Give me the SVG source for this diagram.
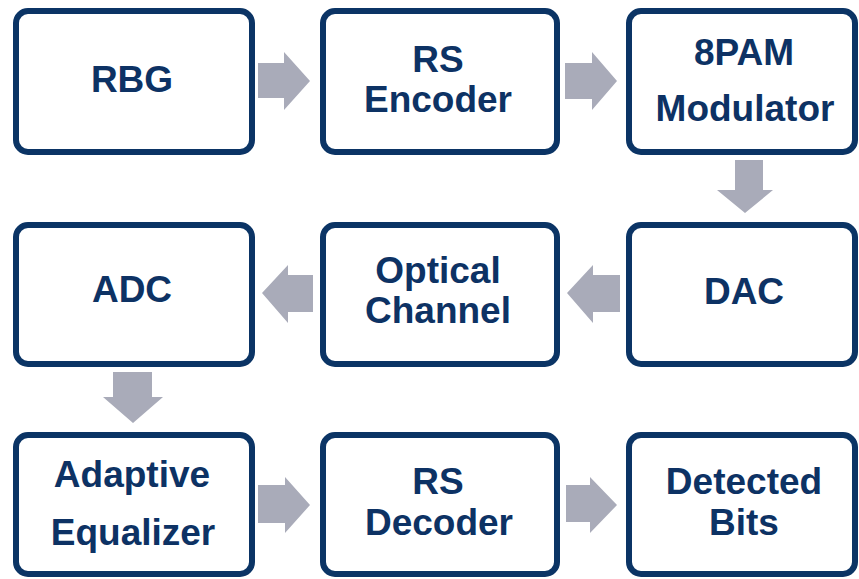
<svg xmlns="http://www.w3.org/2000/svg" width="859" height="579" viewBox="0 0 859 579">
<style>
.box{fill:#ffffff;stroke:#0b3465;stroke-width:6}
.lbl{font-family:"Liberation Sans",Arial,sans-serif;font-weight:bold;font-size:37px;fill:#0d3264;text-anchor:middle}
.arr{fill:#a9abb9}
</style>
<rect width="859" height="579" fill="#ffffff"/>
<g id="connectors">
<polygon class="arr" points="258,63 284,63 284,52 310,81 284,110 284,98 258,98"/>
<polygon class="arr" points="565,63 592,63 592,52 617,81 592,110 592,99 565,99"/>
<polygon class="arr" points="735,160 763,160 763,190 773,190 745,213 717,190 735,190"/>
<polygon class="arr" points="620,275 593,275 593,265 567,293 593,323 593,312 620,312"/>
<polygon class="arr" points="313,275 288,275 288,265 262,293 288,323 288,312 313,312"/>
<polygon class="arr" points="113,372 152,372 152,397 163,397 133,423 103,397 113,397"/>
<polygon class="arr" points="258,485 285,485 285,477 310,505 285,533 285,523 258,523"/>
<polygon class="arr" points="566,485 590,485 590,477 617,505 590,533 590,522 566,522"/>
</g>
<g id="rbg"><rect class="box" x="16" y="11" width="236" height="141" rx="12"/><text class="lbl" x="132" y="92">RBG</text></g>
<g id="rs-encoder"><rect class="box" x="323" y="11" width="234" height="141" rx="12"/><text class="lbl" x="438" y="72">RS</text><text class="lbl" x="438" y="112">Encoder</text></g>
<g id="pam-modulator"><rect class="box" x="629" y="11" width="226" height="141" rx="12"/><text class="lbl" x="744" y="65">8PAM</text><text class="lbl" x="745" y="121">Modulator</text></g>
<g id="adc"><rect class="box" x="16" y="225" width="236" height="139" rx="12"/><text class="lbl" x="132" y="302">ADC</text></g>
<g id="optical-channel"><rect class="box" x="323" y="225" width="234" height="139" rx="12"/><text class="lbl" x="438" y="283">Optical</text><text class="lbl" x="438" y="323">Channel</text></g>
<g id="dac"><rect class="box" x="629" y="225" width="226" height="139" rx="12"/><text class="lbl" x="744" y="304">DAC</text></g>
<g id="adaptive-equalizer"><rect class="box" x="16" y="435" width="236" height="139" rx="12"/><text class="lbl" x="132" y="487">Adaptive</text><text class="lbl" x="133" y="545">Equalizer</text></g>
<g id="rs-decoder"><rect class="box" x="323" y="435" width="234" height="139" rx="12"/><text class="lbl" x="438" y="494">RS</text><text class="lbl" x="439" y="535">Decoder</text></g>
<g id="detected-bits"><rect class="box" x="629" y="435" width="226" height="139" rx="12"/><text class="lbl" x="744" y="494">Detected</text><text class="lbl" x="744" y="535">Bits</text></g>
</svg>
